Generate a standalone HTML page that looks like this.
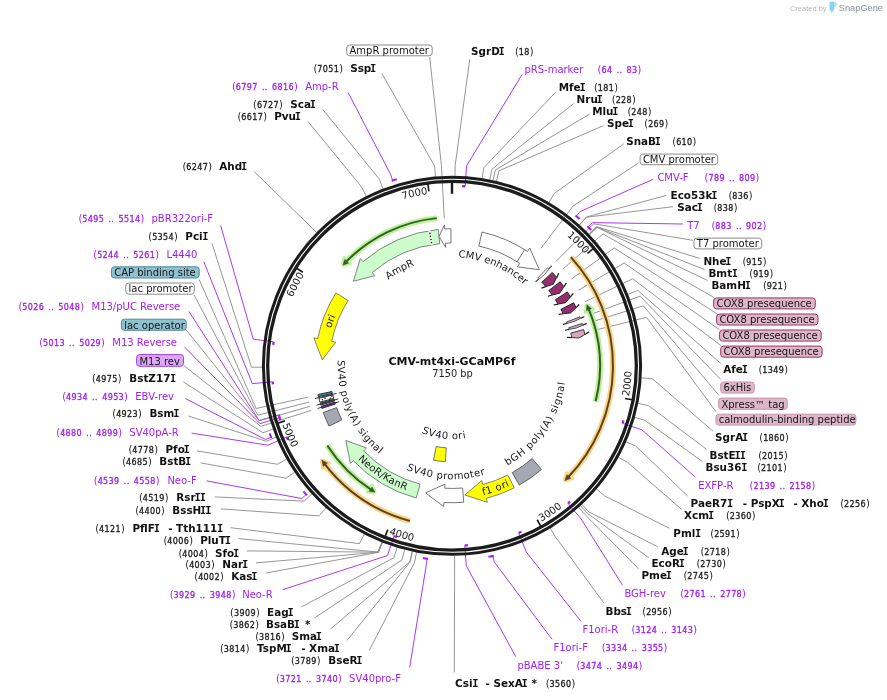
<!DOCTYPE html>
<html><head><meta charset="utf-8"><title>CMV-mt4xi-GCaMP6f</title>
<style>html,body{margin:0;padding:0;background:#fff;width:887px;height:700px;overflow:hidden}svg{display:block;will-change:transform}</style>
</head><body>
<svg width="887" height="700" viewBox="0 0 887 700" font-family="DejaVu Sans, Verdana, sans-serif">
<defs><path id="cp1" d="M522.59,207.37 A173.4,173.4 0 0 1 611.94,298.77"/><path id="cp2" d="M612.46,446.42 A179.6,179.6 0 0 0 625.42,319.06"/><path id="cp3" d="M492.28,540.77 A179.6,179.6 0 0 0 598.61,469.48"/><path id="cp4" d="M342.94,508.45 A179.6,179.6 0 0 0 465.69,544.83"/><path id="cp5" d="M272.54,372.84 A179.6,179.6 0 0 0 322.85,490.56"/><path id="cp6" d="M279.48,348.31 A173.4,173.4 0 0 1 338.29,234.84"/><path id="cp7" d="M355.34,221.79 A173.4,173.4 0 0 1 480.24,194.67"/><path id="cp8" d="M354.31,322.09 A107,107 0 0 1 468.59,260.04"/><path id="cp9" d="M386.85,278.98 A108.5,108.5 0 0 1 559.47,350.86"/><path id="cp10" d="M325.79,374.34 A126.5,126.5 0 0 1 361.19,277.68"/><path id="cp11" d="M323.92,400.45 A132.7,132.7 0 0 0 473.65,496.67"/><path id="cp12" d="M429.6,497.05 A133.2,133.2 0 0 0 552.46,453.22"/><path id="cp13" d="M349.78,415.07 A113.5,113.5 0 0 0 547.93,426.4"/><path id="cp14" d="M381.61,386.91 A73.5,73.5 0 0 0 515.64,402.52"/><path id="cp15" d="M377.72,278.88 A114.3,114.3 0 0 0 466.62,479.11"/><path id="cp16" d="M418.33,474.98 A114.3,114.3 0 0 0 542.31,295.69"/></defs>
<rect width="887" height="700" fill="#ffffff"/>
<g>
<text x="826.6" y="11" font-size="7.5" fill="#b2b6bb" text-anchor="end" font-family="Liberation Sans, sans-serif">Created by</text>
<path d="M829.5,1.7 H834 V9.6 L831.8,13 L829.5,9.6 Z" fill="#8ad2f7"/>
<path d="M834,2.2 H835 Q836.9,2.6 836.8,4.8 Q836.6,7 834,7.4 Z" fill="#a9def9"/>
<text x="838.8" y="11" font-size="9.6" fill="#8a9199" textLength="44.2" lengthAdjust="spacingAndGlyphs" font-family="Liberation Sans, sans-serif">SnapGene</text>
</g>
<g fill="none" stroke-width="0.9"><polyline points="381.8,73.4 434.58,166.01 435.5,176.57" stroke="#8a8a8a"/><polyline points="348.2,92.7 390.8,174.82 392.63,180.53" stroke="#a020f0"/><polyline points="322.7,109.4 379.17,178.94 383.03,188.82" stroke="#8a8a8a"/><polyline points="308,121.5 361.49,186.84 366.27,196.3" stroke="#8a8a8a"/><polyline points="254.3,171.6 309.08,225.13 316.63,232.57" stroke="#8a8a8a"/><polyline points="220.6,225.4 253.27,339.14 273.59,341.86" stroke="#a020f0"/><polyline points="212,243.4 251.51,367.25 262.11,367.17" stroke="#8a8a8a"/><polyline points="203.8,261.7 252.3,383.61 272.72,381.78" stroke="#a020f0"/><polyline points="188.9,311.4 259.11,420.46 278.83,414.87" stroke="#a020f0"/><polyline points="184.6,347.1 260.05,423.67 279.67,417.75" stroke="#a020f0"/><polyline points="183.4,382 263.01,432.71 273,429.17" stroke="#8a8a8a"/><polyline points="185.4,398.6 265.55,439.48 271.13,437.27" stroke="#a020f0"/><polyline points="188.5,416 266.27,441.28 276.09,437.28" stroke="#8a8a8a"/><polyline points="191.5,433.1 267.9,445.18 286.73,437.06" stroke="#a020f0"/><polyline points="196.9,450.9 277.37,464.27 286.6,459.06" stroke="#8a8a8a"/><polyline points="200.6,462.9 286,478.19 294.77,472.25" stroke="#8a8a8a"/><polyline points="206.6,480.9 301.75,498.51 306.24,494.54" stroke="#a020f0"/><polyline points="214.6,496.9 304.1,501.13 311.92,493.97" stroke="#8a8a8a"/><polyline points="220.9,508.9 319.04,515.83 326.07,507.89" stroke="#8a8a8a"/><polyline points="230.6,527.7 359.45,543.61 364.34,534.21" stroke="#8a8a8a"/><polyline points="238.6,538.6 377.86,552.04 381.78,542.19" stroke="#8a8a8a"/><polyline points="246.9,550.9 378.19,552.17 382.09,542.31" stroke="#8a8a8a"/><polyline points="256,562.9 378.35,552.23 382.25,542.38" stroke="#8a8a8a"/><polyline points="265.7,573.1 378.52,552.3 382.4,542.44" stroke="#8a8a8a"/><polyline points="282.6,589.7 387.45,555.58 394.05,536.17" stroke="#a020f0"/><polyline points="301.4,606.9 393.99,557.68 397.06,547.53" stroke="#8a8a8a"/><polyline points="314.6,617.9 401.97,559.91 404.61,549.64" stroke="#8a8a8a"/><polyline points="330.7,628.9 409.85,561.77 412.08,551.41" stroke="#8a8a8a"/><polyline points="347.1,640.3 410.2,561.84 412.41,551.48" stroke="#8a8a8a"/><polyline points="369.3,650.3 414.52,562.72 416.5,552.3" stroke="#8a8a8a"/><polyline points="409.7,667.4 426.35,564.6 427.11,558.65" stroke="#a020f0"/><polyline points="469.8,59.2 455.17,165.28 455,175.87" stroke="#8a8a8a"/><polyline points="522.2,74.3 466.61,165.78 465.12,186.23" stroke="#a020f0"/><polyline points="555.5,92.3 483.76,167.78 482.08,178.25" stroke="#8a8a8a"/><polyline points="573.6,103.6 491.9,169.26 489.79,179.65" stroke="#8a8a8a"/><polyline points="589.8,114 495.35,169.99 493.06,180.34" stroke="#8a8a8a"/><polyline points="603.3,125.7 498.96,170.83 496.47,181.13" stroke="#8a8a8a"/><polyline points="623.7,143.9 554.4,193.37 548.99,202.49" stroke="#8a8a8a"/><polyline points="653.1,179.3 580.14,211.54 576.31,216.16" stroke="#a020f0"/><polyline points="666.4,195.4 586.4,216.97 579.3,224.83" stroke="#8a8a8a"/><polyline points="673.1,206.7 586.66,217.2 579.54,225.06" stroke="#8a8a8a"/><polyline points="682.9,224 592.43,222.64 588.23,226.92" stroke="#a020f0"/><polyline points="699.5,258.3 596.4,226.65 588.76,234" stroke="#8a8a8a"/><polyline points="704.5,269.5 596.89,227.16 589.23,234.48" stroke="#8a8a8a"/><polyline points="707.5,280.5 597.13,227.41 589.46,234.72" stroke="#8a8a8a"/><polyline points="720.9,363.6 637.8,290.39 627.97,294.37" stroke="#8a8a8a"/><polyline points="712.8,431 652.09,378.52 641.51,377.84" stroke="#8a8a8a"/><polyline points="706.4,449.2 648.51,405.57 638.12,403.46" stroke="#8a8a8a"/><polyline points="702.5,461.6 644.94,420.29 634.74,417.41" stroke="#8a8a8a"/><polyline points="695.2,477 641.97,429.88 622.54,423.33" stroke="#a020f0"/><polyline points="687.6,496 635.75,445.98 626.03,441.74" stroke="#8a8a8a"/><polyline points="681.7,509.5 627.66,462.42 618.37,457.31" stroke="#8a8a8a"/><polyline points="669.6,528.4 604.56,495.85 596.5,488.97" stroke="#8a8a8a"/><polyline points="657.8,546.8 589.12,512.03 581.87,504.3" stroke="#8a8a8a"/><polyline points="648.7,557.7 587.57,513.47 580.41,505.66" stroke="#8a8a8a"/><polyline points="638.5,568.7 585.61,515.24 578.55,507.34" stroke="#8a8a8a"/><polyline points="622.5,585.3 581.22,519.05 568.01,503.38" stroke="#a020f0"/><polyline points="604.1,603.4 555.76,537.31 550.28,528.24" stroke="#8a8a8a"/><polyline points="581,621.4 526.3,551.97 518.7,532.93" stroke="#a020f0"/><polyline points="552.1,639.4 494.15,561.77 492.88,555.9" stroke="#a020f0"/><polyline points="515.7,656.6 466.26,565.74 464.8,545.29" stroke="#a020f0"/><polyline points="454.3,672.5 454.64,566.23 454.5,555.63" stroke="#8a8a8a"/><polyline points="429.7,57 441.43,165.53 444.23,218.45" stroke="#8a8a8a"/><polyline points="199.1,279.4 256.11,408.5 307.89,397.2" stroke="#8a8a8a"/><polyline points="194,294.9 257.69,415.19 309.05,402.12" stroke="#8a8a8a"/><polyline points="186,329.7 259.21,420.8 310.17,406.25" stroke="#8a8a8a"/><polyline points="184,365.7 260.88,426.37 311.4,410.34" stroke="#8a8a8a"/><polyline points="638.6,162.9 573.11,205.96 541.09,248.2" stroke="#8a8a8a"/><polyline points="692.9,240.3 593.56,223.76 556.14,261.29" stroke="#8a8a8a"/><polyline points="714,297.5 603.07,233.92 563.13,268.77" stroke="#8a8a8a"/><polyline points="716.6,313.6 614.26,247.97 571.37,279.1" stroke="#8a8a8a"/><polyline points="719.3,329.6 624.15,262.97 578.64,290.14" stroke="#8a8a8a"/><polyline points="721,345.6 632.66,278.79 584.9,301.78" stroke="#8a8a8a"/><polyline points="720.9,379.6 640.03,296.14 590.32,314.54" stroke="#8a8a8a"/><polyline points="718.8,395.2 643.33,305.81 592.75,321.65" stroke="#8a8a8a"/><polyline points="716,411.7 646.57,317.34 595.14,330.14" stroke="#8a8a8a"/></g>
<path d="M570.85,257.15 A161,161 0 0 1 564.86,480.57 " fill="none" stroke="#ffd480" stroke-width="6" stroke-linecap="butt"/><path d="M564.86,480.57 L566.54,472.84 L572.67,478.57 Z" fill="#ffd480" stroke="#ffd480" stroke-width="3.2" stroke-linejoin="round"/><path d="M570.85,257.15 A161,161 0 0 1 567.85,477.55 " fill="none" stroke="#55442a" stroke-width="2"/><path d="M564.86,480.57 L566.94,474.74 L570.72,478.32 Z" fill="#55442a" stroke="#55442a" stroke-width="0.6"/><path d="M409.96,520.96 A160.8,160.8 0 0 1 321.87,460.21 " fill="none" stroke="#ffd480" stroke-width="6" stroke-linecap="butt"/><path d="M321.87,460.21 L329.26,463 L322.68,468.22 Z" fill="#ffd480" stroke="#ffd480" stroke-width="3.2" stroke-linejoin="round"/><path d="M409.96,520.96 A160.8,160.8 0 0 1 324.4,463.61 " fill="none" stroke="#55442a" stroke-width="2"/><path d="M321.87,460.21 L327.32,463.12 L323.22,466.32 Z" fill="#55442a" stroke="#55442a" stroke-width="0.6"/><path d="M595.65,401.36 A148,148 0 0 0 586.89,304.86 " fill="none" stroke="#b6f690" stroke-width="6" stroke-linecap="butt"/><path d="M586.89,304.86 L585.44,312.17 L593.24,309.04 Z" fill="#b6f690" stroke="#b6f690" stroke-width="3.2" stroke-linejoin="round"/><path d="M595.65,401.36 A148,148 0 0 0 588.45,308.44 " fill="none" stroke="#3c5533" stroke-width="2"/><path d="M586.89,304.86 L586.55,310.62 L591.36,308.65 Z" fill="#3c5533" stroke="#3c5533" stroke-width="0.6"/><path d="M327.32,445.49 A148,148 0 0 0 374.96,492.12 " fill="none" stroke="#b6f690" stroke-width="6" stroke-linecap="butt"/><path d="M374.96,492.12 L372.04,485.27 L367.37,492.25 Z" fill="#b6f690" stroke="#b6f690" stroke-width="3.2" stroke-linejoin="round"/><path d="M327.32,445.49 A148,148 0 0 0 371.66,490.04 " fill="none" stroke="#3c5533" stroke-width="2"/><path d="M374.96,492.12 L372,487.16 L369.14,491.5 Z" fill="#3c5533" stroke="#3c5533" stroke-width="0.6"/><path d="M436.77,218.13 A148.4,148.4 0 0 0 342.98,265.07 " fill="none" stroke="#b6f690" stroke-width="6" stroke-linecap="butt"/><path d="M342.98,265.07 L350.28,263.54 L344.36,257.59 Z" fill="#b6f690" stroke="#b6f690" stroke-width="3.2" stroke-linejoin="round"/><path d="M436.77,218.13 A148.4,148.4 0 0 0 345.67,262.23 " fill="none" stroke="#3c5533" stroke-width="2"/><path d="M342.98,265.07 L348.43,263.13 L344.74,259.47 Z" fill="#3c5533" stroke="#3c5533" stroke-width="0.6"/>
<path d="M481.97,232.07 A137,137 0 0 1 527.58,251.48 L529.79,248.15 L539.38,269.7 L517.43,266.83 L519.69,263.41 A122.7,122.7 0 0 0 478.85,246.02 Z" fill="#ffffff" stroke="#555" stroke-width="0.8" stroke-linejoin="miter"/><path d="M517.06,261.72 L524.64,249.6" stroke="#555" stroke-width="0.8"/><path d="M438.3,229.44 A137,137 0 0 0 362.88,261.7 L360.27,258.66 L353.42,281.23 L374.85,275.68 L372.18,272.56 A122.7,122.7 0 0 1 439.73,243.67 Z" fill="#ccfccc" stroke="#666" stroke-width="0.8" stroke-linejoin="miter"/><path d="M431.87,245.02 L429.42,230.32" stroke="#fff" stroke-width="2.0"/><path d="M431.57,243.24 L429.57,231.21" stroke="#111" stroke-width="1.4" stroke-dasharray="1.4,1.7"/><path d="M450.92,228.75 A137,137 0 0 0 444.6,228.95 L444.38,224.96 L439.01,236.55 L445.59,247.32 L445.37,243.23 A122.7,122.7 0 0 1 451.03,243.05 Z" fill="#ffffff" stroke="#555" stroke-width="0.8" stroke-linejoin="miter"/><path d="M335.94,292.95 A137,137 0 0 0 317.73,338.54 L313.81,337.75 L322.29,359.76 L335.76,342.2 L331.74,341.38 A122.7,122.7 0 0 1 348.06,300.55 Z" fill="#ffff00" stroke="#666" stroke-width="0.8" stroke-linejoin="miter"/><path d="M416.3,498.02 A137,137 0 0 1 353.33,460.8 L350.45,463.57 L345.79,440.45 L366.59,448.03 L363.63,450.88 A122.7,122.7 0 0 0 420.03,484.21 Z" fill="#ccfccc" stroke="#666" stroke-width="0.8" stroke-linejoin="miter"/><path d="M463.78,502.24 A137,137 0 0 1 443.88,502.51 L443.64,506.5 L425.6,492.89 L444.97,484.14 L444.73,488.23 A122.7,122.7 0 0 0 462.55,488 Z" fill="#ffffff" stroke="#555" stroke-width="0.8" stroke-linejoin="miter"/><path d="M514.28,487.78 A137,137 0 0 1 486.3,498.39 L487.31,502.26 L464.87,494.96 L481.7,480.57 L482.72,484.54 A122.7,122.7 0 0 0 507.78,475.04 Z" fill="#ffff00" stroke="#666" stroke-width="0.8" stroke-linejoin="miter"/><path d="M541.58,469.41 A137,137 0 0 1 519.26,485.1 L512.24,472.64 A122.7,122.7 0 0 0 532.23,458.59 Z" fill="#a3a8b1" stroke="#444" stroke-width="0.8" stroke-linejoin="miter"/><path d="M329.03,426.14 A137,137 0 0 1 323.23,412.53 L336.67,407.64 A122.7,122.7 0 0 0 341.87,419.84 Z" fill="#a3a8b1" stroke="#444" stroke-width="0.8" stroke-linejoin="miter"/><path d="M445.33,461.72 A96.2,96.2 0 0 1 433.52,460.16 L436.19,446.52 A82.3,82.3 0 0 0 446.29,447.85 Z" fill="#ffff00" stroke="#555" stroke-width="0.8" stroke-linejoin="miter"/><path d="M552.32,272.45 A137,137 0 0 1 556.72,277.41 L553.13,284.31 L545.79,286.64 A122.7,122.7 0 0 0 541.85,282.19 Z" fill="#952f6b" stroke="#1a1a1a" stroke-width="0.9" stroke-linejoin="miter"/><path d="M556.72,277.41 L558.72,273.22 M545.79,286.64 L541.5,288.16" stroke="#1a1a1a" stroke-width="1.2" fill="none"/><path d="M560.2,281.71 A137,137 0 0 1 563.95,286.78 L559.7,293.21 L552.26,295.02 A122.7,122.7 0 0 0 548.9,290.48 Z" fill="#952f6b" stroke="#1a1a1a" stroke-width="0.9" stroke-linejoin="miter"/><path d="M563.95,286.78 L566.36,282.85 M552.26,295.02 L547.9,296.23" stroke="#1a1a1a" stroke-width="1.2" fill="none"/><path d="M567.41,291.94 A137,137 0 0 1 570.44,296.9 L565.54,302.74 L558.08,304.08 A122.7,122.7 0 0 0 555.37,299.64 Z" fill="#952f6b" stroke="#1a1a1a" stroke-width="0.9" stroke-linejoin="miter"/><path d="M570.44,296.9 L573.27,293.32 M558.08,304.08 L553.69,305.01" stroke="#1a1a1a" stroke-width="1.2" fill="none"/><path d="M573.67,302.78 A137,137 0 0 1 576.09,307.7 L570.63,312.95 L563.14,313.76 A122.7,122.7 0 0 0 560.97,309.35 Z" fill="#952f6b" stroke="#1a1a1a" stroke-width="0.9" stroke-linejoin="miter"/><path d="M576.09,307.7 L579.26,304.47 M563.14,313.76 L558.72,314.36" stroke="#1a1a1a" stroke-width="1.2" fill="none"/><path d="M547.7,267.71 A137,137 0 0 1 548.98,268.98 L544.48,274.6 L538.85,279.08 A122.7,122.7 0 0 0 537.71,277.95 Z" fill="#ffffff" stroke="#444" stroke-width="0.8" stroke-linejoin="miter"/><path d="M548.98,268.98 L551.62,265.61 M538.85,279.08 L535.54,281.77" stroke="#444" stroke-width="1.2" fill="none"/><path d="M579.97,316.83 A137,137 0 0 1 580.54,318.36 L574.09,321.52 L567.13,323.31 A122.7,122.7 0 0 0 566.61,321.94 Z" fill="#dba9c4" stroke="#2a2a2a" stroke-width="0.8" stroke-linejoin="miter"/><path d="M580.54,318.36 L584.37,316.45 M567.13,323.31 L563,324.41" stroke="#2a2a2a" stroke-width="1.2" fill="none"/><path d="M582.29,323.41 A137,137 0 0 1 582.84,325.13 L576.25,328.02 L569.18,329.37 A122.7,122.7 0 0 0 568.69,327.83 Z" fill="#dba9c4" stroke="#2a2a2a" stroke-width="0.8" stroke-linejoin="miter"/><path d="M582.84,325.13 L586.74,323.38 M569.18,329.37 L564.99,330.22" stroke="#2a2a2a" stroke-width="1.2" fill="none"/><path d="M583.61,329.54 A136.5,136.5 0 0 1 584.88,334.52 L578.86,338.06 L571.93,337.57 A123.2,123.2 0 0 0 570.79,333.07 Z" fill="#d9a5c0" stroke="#2a2a2a" stroke-width="0.9" stroke-linejoin="miter"/><path d="M584.88,334.52 L589.13,331.87 M571.93,337.57 L566.99,337.34" stroke="#2a2a2a" stroke-width="1.2" fill="none"/><path d="M321.82,408.43 A137,137 0 0 1 321.16,406.36 L334.82,402.12 A122.7,122.7 0 0 0 335.41,403.97 Z" fill="#a020f0" stroke="#3a1a4a" stroke-width="0.9"/><path d="M320.77,405.1 A137,137 0 0 1 320.2,403.13 L333.96,399.23 A122.7,122.7 0 0 0 334.47,400.99 Z" fill="#3796ac" stroke="#1a1a1a" stroke-width="0.9"/><path d="M319.94,402.21 A137,137 0 0 1 318.91,398.24 L332.8,394.85 A122.7,122.7 0 0 0 333.72,398.4 Z" fill="#ffffff" stroke="#1a1a1a" stroke-width="0.9"/><circle cx="330.25" cy="398.21" r="0.8" fill="#111"/><circle cx="325.07" cy="398.16" r="0.8" fill="#111"/><circle cx="322.4" cy="399.82" r="0.8" fill="#111"/><circle cx="331.75" cy="396.01" r="0.8" fill="#111"/><path d="M318.52,396.6 A137,137 0 0 1 318.05,394.49 L332.03,391.49 A122.7,122.7 0 0 0 332.45,393.38 Z" fill="#3796ac" stroke="#1a1a1a" stroke-width="0.9"/><path d="M338.98,401.7 L317.64,408.5" stroke="#333" stroke-width="1"/><path d="M338.13,398.91 L316.62,405.18" stroke="#333" stroke-width="1"/><path d="M336.66,393.37 L314.88,398.59" stroke="#333" stroke-width="1"/>
<circle cx="452" cy="365.75" r="188.6" fill="none" stroke="#1c1c1c" stroke-width="3.0"/><circle cx="452" cy="365.75" r="184.35" fill="none" stroke="#1c1c1c" stroke-width="3.3"/>
<line x1="587.51" y1="253.44" x2="593.29" y2="248.66" stroke="#1a1a1a" stroke-width="1.6"/><line x1="624.94" y1="398.43" x2="632.31" y2="399.82" stroke="#1a1a1a" stroke-width="1.6"/><line x1="537.19" y1="519.76" x2="540.83" y2="526.32" stroke="#1a1a1a" stroke-width="1.6"/><line x1="387.79" y1="529.62" x2="385.05" y2="536.6" stroke="#1a1a1a" stroke-width="1.6"/><line x1="284.85" y1="420.87" x2="277.73" y2="423.22" stroke="#1a1a1a" stroke-width="1.6"/><line x1="302.9" y1="272.23" x2="296.55" y2="268.24" stroke="#1a1a1a" stroke-width="1.6"/><line x1="428.87" y1="191.28" x2="427.88" y2="183.84" stroke="#1a1a1a" stroke-width="1.6"/><line x1="452" y1="193.75" x2="452" y2="182.25" stroke="#1a1a1a" stroke-width="2.4"/>
<path d="M392.63,180.53 A194.5,194.5 0 0 1 395.73,179.57 " fill="none" stroke="#a020f0" stroke-width="2.0" stroke-linecap="square"/><path d="M462.12,186.03 A180,180 0 0 1 465.12,186.23 " fill="none" stroke="#a020f0" stroke-width="2.3"/><path d="M576.31,216.16 A194.5,194.5 0 0 1 578.92,218.37 " fill="none" stroke="#a020f0" stroke-width="2.0" stroke-linecap="square"/><path d="M588.23,226.92 A194.5,194.5 0 0 1 590.53,229.22 " fill="none" stroke="#a020f0" stroke-width="2.0" stroke-linecap="square"/><path d="M623.48,420.47 A180,180 0 0 1 622.54,423.33 " fill="none" stroke="#a020f0" stroke-width="2.3"/><path d="M570.05,501.63 A180,180 0 0 1 568.01,503.38 " fill="none" stroke="#a020f0" stroke-width="2.3"/><path d="M521.49,531.8 A180,180 0 0 1 518.7,532.93 " fill="none" stroke="#a020f0" stroke-width="2.3"/><path d="M492.88,555.9 A194.5,194.5 0 0 1 489.37,556.63 " fill="none" stroke="#a020f0" stroke-width="2.0" stroke-linecap="square"/><path d="M467.96,545.04 A180,180 0 0 1 464.8,545.29 " fill="none" stroke="#a020f0" stroke-width="2.3"/><path d="M427.11,558.65 A194.5,194.5 0 0 1 423.9,558.21 " fill="none" stroke="#a020f0" stroke-width="2.0" stroke-linecap="square"/><path d="M396.9,537.11 A180,180 0 0 1 394.05,536.17 " fill="none" stroke="#a020f0" stroke-width="2.3"/><path d="M306.24,494.54 A194.5,194.5 0 0 1 304.11,492.08 " fill="none" stroke="#a020f0" stroke-width="2.0" stroke-linecap="square"/><path d="M287.94,439.8 A180,180 0 0 1 286.73,437.06 " fill="none" stroke="#a020f0" stroke-width="2.3"/><path d="M271.13,437.27 A194.5,194.5 0 0 1 269.96,434.24 " fill="none" stroke="#a020f0" stroke-width="2.0" stroke-linecap="square"/><path d="M280.42,420.17 A180,180 0 0 1 279.67,417.75 " fill="none" stroke="#a020f0" stroke-width="2.3"/><path d="M279.81,418.2 A180,180 0 0 1 278.83,414.87 " fill="none" stroke="#a020f0" stroke-width="2.3"/><path d="M272.98,384.46 A180,180 0 0 1 272.72,381.78 " fill="none" stroke="#a020f0" stroke-width="2.3"/><path d="M273.22,344.84 A180,180 0 0 1 273.59,341.86 " fill="none" stroke="#a020f0" stroke-width="2.3"/>
<text font-size="10" fill="#1a1a1a"><textPath href="#cp1" startOffset="50%" text-anchor="middle">1000</textPath></text><text font-size="10" fill="#1a1a1a"><textPath href="#cp2" startOffset="50%" text-anchor="middle">2000</textPath></text><text font-size="10" fill="#1a1a1a"><textPath href="#cp3" startOffset="50%" text-anchor="middle">3000</textPath></text><text font-size="10" fill="#1a1a1a"><textPath href="#cp4" startOffset="50%" text-anchor="middle">4000</textPath></text><text font-size="10" fill="#1a1a1a"><textPath href="#cp5" startOffset="50%" text-anchor="middle">5000</textPath></text><text font-size="10" fill="#1a1a1a"><textPath href="#cp6" startOffset="50%" text-anchor="middle">6000</textPath></text><text font-size="10" fill="#1a1a1a"><textPath href="#cp7" startOffset="50%" text-anchor="middle">7000</textPath></text><text font-size="10" fill="#1a1a1a"><textPath href="#cp8" startOffset="50%" text-anchor="middle">AmpR</textPath></text><text font-size="10" fill="#1a1a1a"><textPath href="#cp9" startOffset="50%" text-anchor="middle">CMV enhancer</textPath></text><text font-size="10" fill="#1a1a1a"><textPath href="#cp10" startOffset="50%" text-anchor="middle">ori</textPath></text><text font-size="10" fill="#1a1a1a" letter-spacing="0.21"><textPath href="#cp11" startOffset="50%" text-anchor="middle">NeoR/KanR</textPath></text><text font-size="10" fill="#1a1a1a" letter-spacing="0.42"><textPath href="#cp12" startOffset="50%" text-anchor="middle">f1 ori</textPath></text><text font-size="10" fill="#1a1a1a" letter-spacing="0.44"><textPath href="#cp13" startOffset="50%" text-anchor="middle">SV40 promoter</textPath></text><text font-size="10" fill="#1a1a1a" letter-spacing="0.48"><textPath href="#cp14" startOffset="50%" text-anchor="middle">SV40 ori</textPath></text><text font-size="10" fill="#1a1a1a" letter-spacing="0.49"><textPath href="#cp15" startOffset="50%" text-anchor="middle">SV40 poly(A) signal</textPath></text><text font-size="10" fill="#1a1a1a" letter-spacing="0.66"><textPath href="#cp16" startOffset="50%" text-anchor="middle">bGH poly(A) signal</textPath></text>
<text x="313.4" y="72" font-size="9.8" fill="#222">(<tspan font-size="8" letter-spacing="0.4" word-spacing="1.2" stroke="#222" stroke-width="0.3">7051</tspan>)</text><text x="350.2" y="72" font-size="10.4" font-weight="bold" fill="#111">Ssp<tspan font-family="DejaVu Sans Mono" dx="-1.2">I</tspan></text><text x="232" y="89.7" font-size="9.8" fill="#a020f0">(<tspan font-size="8" letter-spacing="0.4" word-spacing="1.2" stroke="#a020f0" stroke-width="0.3">6797 .. 6816</tspan>)</text><text x="305.2" y="89.7" font-size="10" fill="#a020f0">Amp-R</text><text x="253.1" y="107.8" font-size="9.8" fill="#222">(<tspan font-size="8" letter-spacing="0.4" word-spacing="1.2" stroke="#222" stroke-width="0.3">6727</tspan>)</text><text x="290.3" y="107.8" font-size="10.4" font-weight="bold" fill="#111">Sca<tspan font-family="DejaVu Sans Mono" dx="-1.2">I</tspan></text><text x="237.5" y="119.7" font-size="9.8" fill="#222">(<tspan font-size="8" letter-spacing="0.4" word-spacing="1.2" stroke="#222" stroke-width="0.3">6617</tspan>)</text><text x="274.2" y="119.7" font-size="10.4" font-weight="bold" fill="#111">Pvu<tspan font-family="DejaVu Sans Mono" dx="-1.2">I</tspan></text><text x="182.4" y="169.6" font-size="9.8" fill="#222">(<tspan font-size="8" letter-spacing="0.4" word-spacing="1.2" stroke="#222" stroke-width="0.3">6247</tspan>)</text><text x="219.3" y="169.6" font-size="10.4" font-weight="bold" fill="#111">Ahd<tspan font-family="DejaVu Sans Mono" dx="-1.2">I</tspan></text><text x="78.5" y="221.9" font-size="9.8" fill="#a020f0">(<tspan font-size="8" letter-spacing="0.4" word-spacing="1.2" stroke="#a020f0" stroke-width="0.3">5495 .. 5514</tspan>)</text><text x="151.5" y="221.9" font-size="10" fill="#a020f0">pBR322ori-F</text><text x="148.3" y="240" font-size="9.8" fill="#222">(<tspan font-size="8" letter-spacing="0.4" word-spacing="1.2" stroke="#222" stroke-width="0.3">5354</tspan>)</text><text x="185.3" y="240" font-size="10.4" font-weight="bold" fill="#111">Pci<tspan font-family="DejaVu Sans Mono" dx="-0.3">I</tspan></text><text x="93.3" y="258.2" font-size="9.8" fill="#a020f0">(<tspan font-size="8" letter-spacing="0.4" word-spacing="1.2" stroke="#a020f0" stroke-width="0.3">5244 .. 5261</tspan>)</text><text x="166.4" y="258.2" font-size="10" fill="#a020f0">L4440</text><text x="18.4" y="310.4" font-size="9.8" fill="#a020f0">(<tspan font-size="8" letter-spacing="0.4" word-spacing="1.2" stroke="#a020f0" stroke-width="0.3">5026 .. 5048</tspan>)</text><text x="91.5" y="310.4" font-size="10" fill="#a020f0">M13/pUC Reverse</text><text x="39.2" y="345.8" font-size="9.8" fill="#a020f0">(<tspan font-size="8" letter-spacing="0.4" word-spacing="1.2" stroke="#a020f0" stroke-width="0.3">5013 .. 5029</tspan>)</text><text x="112.3" y="345.8" font-size="10" fill="#a020f0">M13 Reverse</text><text x="92" y="381.5" font-size="9.8" fill="#222">(<tspan font-size="8" letter-spacing="0.4" word-spacing="1.2" stroke="#222" stroke-width="0.3">4975</tspan>)</text><text x="129.3" y="381.5" font-size="10.4" font-weight="bold" fill="#111">BstZ17<tspan font-family="DejaVu Sans Mono" dx="-0.3">I</tspan></text><text x="62.2" y="399.5" font-size="9.8" fill="#a020f0">(<tspan font-size="8" letter-spacing="0.4" word-spacing="1.2" stroke="#a020f0" stroke-width="0.3">4934 .. 4953</tspan>)</text><text x="135.3" y="399.5" font-size="10" fill="#a020f0">EBV-rev</text><text x="112.3" y="417.4" font-size="9.8" fill="#222">(<tspan font-size="8" letter-spacing="0.4" word-spacing="1.2" stroke="#222" stroke-width="0.3">4923</tspan>)</text><text x="149.4" y="417.4" font-size="10.4" font-weight="bold" fill="#111">Bsm<tspan font-family="DejaVu Sans Mono" dx="-1.2">I</tspan></text><text x="56.3" y="435.5" font-size="9.8" fill="#a020f0">(<tspan font-size="8" letter-spacing="0.4" word-spacing="1.2" stroke="#a020f0" stroke-width="0.3">4880 .. 4899</tspan>)</text><text x="129.3" y="435.5" font-size="10" fill="#a020f0">SV40pA-R</text><text x="128.5" y="453.4" font-size="9.8" fill="#222">(<tspan font-size="8" letter-spacing="0.4" word-spacing="1.2" stroke="#222" stroke-width="0.3">4778</tspan>)</text><text x="165.5" y="453.4" font-size="10.4" font-weight="bold" fill="#111">Pfo<tspan font-family="DejaVu Sans Mono" dx="-1.2">I</tspan></text><text x="122.2" y="465.4" font-size="9.8" fill="#222">(<tspan font-size="8" letter-spacing="0.4" word-spacing="1.2" stroke="#222" stroke-width="0.3">4685</tspan>)</text><text x="159.3" y="465.4" font-size="10.4" font-weight="bold" fill="#111">BstB<tspan font-family="DejaVu Sans Mono" dx="-1.2">I</tspan></text><text x="93.8" y="484.4" font-size="9.8" fill="#a020f0">(<tspan font-size="8" letter-spacing="0.4" word-spacing="1.2" stroke="#a020f0" stroke-width="0.3">4539 .. 4558</tspan>)</text><text x="167.4" y="484.4" font-size="10" fill="#a020f0">Neo-F</text><text x="139" y="501.4" font-size="9.8" fill="#222">(<tspan font-size="8" letter-spacing="0.4" word-spacing="1.2" stroke="#222" stroke-width="0.3">4519</tspan>)</text><text x="176.3" y="501.4" font-size="10.4" font-weight="bold" fill="#111">Rsr<tspan font-family="DejaVu Sans Mono" dx="-1.2">I</tspan><tspan font-family="DejaVu Sans Mono" dx="-1.0">I</tspan></text><text x="135.2" y="513.8" font-size="9.8" fill="#222">(<tspan font-size="8" letter-spacing="0.4" word-spacing="1.2" stroke="#222" stroke-width="0.3">4400</tspan>)</text><text x="172.3" y="513.8" font-size="10.4" font-weight="bold" fill="#111">BssH<tspan font-family="DejaVu Sans Mono" dx="-1.2">I</tspan><tspan font-family="DejaVu Sans Mono" dx="-1.0">I</tspan></text><text x="95.2" y="532.3" font-size="9.8" fill="#222">(<tspan font-size="8" letter-spacing="0.4" word-spacing="1.2" stroke="#222" stroke-width="0.3">4121</tspan>)</text><text x="132.5" y="532.3" font-size="10.4" font-weight="bold" fill="#111">PflF<tspan font-family="DejaVu Sans Mono" dx="-1.2">I</tspan></text><text x="168.2" y="532.3" font-size="10.4" font-weight="bold" fill="#111">- Tth111<tspan font-family="DejaVu Sans Mono" dx="-0.3">I</tspan></text><text x="163.4" y="544.4" font-size="9.8" fill="#222">(<tspan font-size="8" letter-spacing="0.4" word-spacing="1.2" stroke="#222" stroke-width="0.3">4006</tspan>)</text><text x="200.2" y="544.4" font-size="10.4" font-weight="bold" fill="#111">PluT<tspan font-family="DejaVu Sans Mono" dx="-1.2">I</tspan></text><text x="178.5" y="556.6" font-size="9.8" fill="#222">(<tspan font-size="8" letter-spacing="0.4" word-spacing="1.2" stroke="#222" stroke-width="0.3">4004</tspan>)</text><text x="215" y="556.6" font-size="10.4" font-weight="bold" fill="#111">Sfo<tspan font-family="DejaVu Sans Mono" dx="-1.2">I</tspan></text><text x="185.3" y="568.2" font-size="9.8" fill="#222">(<tspan font-size="8" letter-spacing="0.4" word-spacing="1.2" stroke="#222" stroke-width="0.3">4003</tspan>)</text><text x="222.3" y="568.2" font-size="10.4" font-weight="bold" fill="#111">Nar<tspan font-family="DejaVu Sans Mono" dx="-1.2">I</tspan></text><text x="194.3" y="580.2" font-size="9.8" fill="#222">(<tspan font-size="8" letter-spacing="0.4" word-spacing="1.2" stroke="#222" stroke-width="0.3">4002</tspan>)</text><text x="231.3" y="580.2" font-size="10.4" font-weight="bold" fill="#111">Kas<tspan font-family="DejaVu Sans Mono" dx="-1.2">I</tspan></text><text x="169.76" y="598.4" font-size="9.8" fill="#a020f0">(<tspan font-size="8" letter-spacing="0.4" word-spacing="1.2" stroke="#a020f0" stroke-width="0.3">3929 .. 3948</tspan>)</text><text x="242.2" y="598.4" font-size="10" fill="#a020f0">Neo-R</text><text x="230.1" y="616" font-size="9.8" fill="#222">(<tspan font-size="8" letter-spacing="0.4" word-spacing="1.2" stroke="#222" stroke-width="0.3">3909</tspan>)</text><text x="267.1" y="616" font-size="10.4" font-weight="bold" fill="#111">Eag<tspan font-family="DejaVu Sans Mono" dx="-1.2">I</tspan></text><text x="229.5" y="628.2" font-size="9.8" fill="#222">(<tspan font-size="8" letter-spacing="0.4" word-spacing="1.2" stroke="#222" stroke-width="0.3">3862</tspan>)</text><text x="266" y="628.2" font-size="10.4" font-weight="bold" fill="#111">BsaB<tspan font-family="DejaVu Sans Mono" dx="-1.2">I</tspan></text><text x="305" y="628.2" font-size="10.4" font-weight="bold" fill="#111">*</text><text x="255.2" y="640.1" font-size="9.8" fill="#222">(<tspan font-size="8" letter-spacing="0.4" word-spacing="1.2" stroke="#222" stroke-width="0.3">3816</tspan>)</text><text x="291.7" y="640.1" font-size="10.4" font-weight="bold" fill="#111">Sma<tspan font-family="DejaVu Sans Mono" dx="-1.2">I</tspan></text><text x="220" y="652" font-size="9.8" fill="#222">(<tspan font-size="8" letter-spacing="0.4" word-spacing="1.2" stroke="#222" stroke-width="0.3">3814</tspan>)</text><text x="257.1" y="652" font-size="10.4" font-weight="bold" fill="#111">TspM<tspan font-family="DejaVu Sans Mono" dx="-1.2">I</tspan></text><text x="301.2" y="652" font-size="10.4" font-weight="bold" fill="#111">- Xma<tspan font-family="DejaVu Sans Mono" dx="-1.2">I</tspan></text><text x="290.9" y="664.1" font-size="9.8" fill="#222">(<tspan font-size="8" letter-spacing="0.4" word-spacing="1.2" stroke="#222" stroke-width="0.3">3789</tspan>)</text><text x="328.3" y="664.1" font-size="10.4" font-weight="bold" fill="#111">BseR<tspan font-family="DejaVu Sans Mono" dx="-1.2">I</tspan></text><text x="276" y="682.3" font-size="9.8" fill="#a020f0">(<tspan font-size="8" letter-spacing="0.4" word-spacing="1.2" stroke="#a020f0" stroke-width="0.3">3721 .. 3740</tspan>)</text><text x="349.1" y="682.3" font-size="10" fill="#a020f0">SV40pro-F</text><text x="471.1" y="54.9" font-size="10.4" font-weight="bold" fill="#111">SgrD<tspan font-family="DejaVu Sans Mono" dx="-1.2">I</tspan></text><text x="515" y="54.9" font-size="9.8" fill="#222">(<tspan font-size="8" letter-spacing="0.4" word-spacing="1.2" stroke="#222" stroke-width="0.3">18</tspan>)</text><text x="524.4" y="72.7" font-size="10" fill="#a020f0">pRS-marker</text><text x="597.6" y="72.7" font-size="9.8" fill="#a020f0">(<tspan font-size="8" letter-spacing="0.4" word-spacing="1.2" stroke="#a020f0" stroke-width="0.3">64 .. 83</tspan>)</text><text x="558.7" y="90.8" font-size="10.4" font-weight="bold" fill="#111">Mfe<tspan font-family="DejaVu Sans Mono" dx="-1.2">I</tspan></text><text x="593.9" y="90.8" font-size="9.8" fill="#222">(<tspan font-size="8" letter-spacing="0.4" word-spacing="1.2" stroke="#222" stroke-width="0.3">181</tspan>)</text><text x="576.6" y="102.7" font-size="10.4" font-weight="bold" fill="#111">Nru<tspan font-family="DejaVu Sans Mono" dx="-1.2">I</tspan></text><text x="611.8" y="102.7" font-size="9.8" fill="#222">(<tspan font-size="8" letter-spacing="0.4" word-spacing="1.2" stroke="#222" stroke-width="0.3">228</tspan>)</text><text x="592.2" y="114.9" font-size="10.4" font-weight="bold" fill="#111">Mlu<tspan font-family="DejaVu Sans Mono" dx="-1.2">I</tspan></text><text x="627.4" y="114.9" font-size="9.8" fill="#222">(<tspan font-size="8" letter-spacing="0.4" word-spacing="1.2" stroke="#222" stroke-width="0.3">248</tspan>)</text><text x="607.1" y="126.8" font-size="10.4" font-weight="bold" fill="#111">Spe<tspan font-family="DejaVu Sans Mono" dx="-1.2">I</tspan></text><text x="644.3" y="126.8" font-size="9.8" fill="#222">(<tspan font-size="8" letter-spacing="0.4" word-spacing="1.2" stroke="#222" stroke-width="0.3">269</tspan>)</text><text x="626.2" y="144.8" font-size="10.4" font-weight="bold" fill="#111">SnaB<tspan font-family="DejaVu Sans Mono" dx="-1.2">I</tspan></text><text x="672.3" y="144.8" font-size="9.8" fill="#222">(<tspan font-size="8" letter-spacing="0.4" word-spacing="1.2" stroke="#222" stroke-width="0.3">610</tspan>)</text><text x="657.4" y="180.9" font-size="10" fill="#a020f0">CMV-F</text><text x="704.6" y="180.9" font-size="9.8" fill="#a020f0">(<tspan font-size="8" letter-spacing="0.4" word-spacing="1.2" stroke="#a020f0" stroke-width="0.3">789 .. 809</tspan>)</text><text x="670.6" y="198.7" font-size="10.4" font-weight="bold" fill="#111">Eco53k<tspan font-family="DejaVu Sans Mono" dx="-1.2">I</tspan></text><text x="728.4" y="198.7" font-size="9.8" fill="#222">(<tspan font-size="8" letter-spacing="0.4" word-spacing="1.2" stroke="#222" stroke-width="0.3">836</tspan>)</text><text x="677.3" y="210.6" font-size="10.4" font-weight="bold" fill="#111">Sac<tspan font-family="DejaVu Sans Mono" dx="-1.2">I</tspan></text><text x="713.5" y="210.6" font-size="9.8" fill="#222">(<tspan font-size="8" letter-spacing="0.4" word-spacing="1.2" stroke="#222" stroke-width="0.3">838</tspan>)</text><text x="687.2" y="228.8" font-size="10" fill="#a020f0">T7</text><text x="711.5" y="228.8" font-size="9.8" fill="#a020f0">(<tspan font-size="8" letter-spacing="0.4" word-spacing="1.2" stroke="#a020f0" stroke-width="0.3">883 .. 902</tspan>)</text><text x="703.4" y="264.7" font-size="10.4" font-weight="bold" fill="#111">Nhe<tspan font-family="DejaVu Sans Mono" dx="-1.2">I</tspan></text><text x="742.4" y="264.7" font-size="9.8" fill="#222">(<tspan font-size="8" letter-spacing="0.4" word-spacing="1.2" stroke="#222" stroke-width="0.3">915</tspan>)</text><text x="708.4" y="276.6" font-size="10.4" font-weight="bold" fill="#111">Bmt<tspan font-family="DejaVu Sans Mono" dx="-0.3">I</tspan></text><text x="749.3" y="276.6" font-size="9.8" fill="#222">(<tspan font-size="8" letter-spacing="0.4" word-spacing="1.2" stroke="#222" stroke-width="0.3">919</tspan>)</text><text x="711.4" y="288.6" font-size="10.4" font-weight="bold" fill="#111">BamH<tspan font-family="DejaVu Sans Mono" dx="-1.2">I</tspan></text><text x="763" y="288.6" font-size="9.8" fill="#222">(<tspan font-size="8" letter-spacing="0.4" word-spacing="1.2" stroke="#222" stroke-width="0.3">921</tspan>)</text><text x="723.3" y="372.8" font-size="10.4" font-weight="bold" fill="#111">Afe<tspan font-family="DejaVu Sans Mono" dx="-1.2">I</tspan></text><text x="758.5" y="372.8" font-size="9.8" fill="#222">(<tspan font-size="8" letter-spacing="0.4" word-spacing="1.2" stroke="#222" stroke-width="0.3">1349</tspan>)</text><text x="715.1" y="441.1" font-size="10.4" font-weight="bold" fill="#111">SgrA<tspan font-family="DejaVu Sans Mono" dx="-1.2">I</tspan></text><text x="759.3" y="441.1" font-size="9.8" fill="#222">(<tspan font-size="8" letter-spacing="0.4" word-spacing="1.2" stroke="#222" stroke-width="0.3">1860</tspan>)</text><text x="709.5" y="459" font-size="10.4" font-weight="bold" fill="#111">BstE<tspan font-family="DejaVu Sans Mono" dx="-1.2">I</tspan><tspan font-family="DejaVu Sans Mono" dx="-1.0">I</tspan></text><text x="758.2" y="459" font-size="9.8" fill="#222">(<tspan font-size="8" letter-spacing="0.4" word-spacing="1.2" stroke="#222" stroke-width="0.3">2015</tspan>)</text><text x="705.5" y="471.1" font-size="10.4" font-weight="bold" fill="#111">Bsu36<tspan font-family="DejaVu Sans Mono" dx="-0.3">I</tspan></text><text x="757.2" y="471.1" font-size="9.8" fill="#222">(<tspan font-size="8" letter-spacing="0.4" word-spacing="1.2" stroke="#222" stroke-width="0.3">2101</tspan>)</text><text x="698.2" y="488.7" font-size="10" fill="#a020f0">EXFP-R</text><text x="749.6" y="488.7" font-size="9.8" fill="#a020f0">(<tspan font-size="8" letter-spacing="0.4" word-spacing="1.2" stroke="#a020f0" stroke-width="0.3">2139 .. 2158</tspan>)</text><text x="690.6" y="506.8" font-size="10.4" font-weight="bold" fill="#111">PaeR7<tspan font-family="DejaVu Sans Mono" dx="-0.3">I</tspan></text><text x="742.8" y="506.8" font-size="10.4" font-weight="bold" fill="#111">- PspX<tspan font-family="DejaVu Sans Mono" dx="-1.2">I</tspan></text><text x="793.4" y="506.8" font-size="10.4" font-weight="bold" fill="#111">- Xho<tspan font-family="DejaVu Sans Mono" dx="-1.2">I</tspan></text><text x="840.2" y="506.8" font-size="9.8" fill="#222">(<tspan font-size="8" letter-spacing="0.4" word-spacing="1.2" stroke="#222" stroke-width="0.3">2256</tspan>)</text><text x="684.1" y="518.5" font-size="10.4" font-weight="bold" fill="#111">Xcm<tspan font-family="DejaVu Sans Mono" dx="-1.2">I</tspan></text><text x="726" y="518.5" font-size="9.8" fill="#222">(<tspan font-size="8" letter-spacing="0.4" word-spacing="1.2" stroke="#222" stroke-width="0.3">2360</tspan>)</text><text x="673.3" y="536.6" font-size="10.4" font-weight="bold" fill="#111">Pml<tspan font-family="DejaVu Sans Mono" dx="-0.3">I</tspan></text><text x="710.3" y="536.6" font-size="9.8" fill="#222">(<tspan font-size="8" letter-spacing="0.4" word-spacing="1.2" stroke="#222" stroke-width="0.3">2591</tspan>)</text><text x="661.2" y="554.7" font-size="10.4" font-weight="bold" fill="#111">Age<tspan font-family="DejaVu Sans Mono" dx="-1.2">I</tspan></text><text x="700.4" y="554.7" font-size="9.8" fill="#222">(<tspan font-size="8" letter-spacing="0.4" word-spacing="1.2" stroke="#222" stroke-width="0.3">2718</tspan>)</text><text x="651.5" y="567" font-size="10.4" font-weight="bold" fill="#111">EcoR<tspan font-family="DejaVu Sans Mono" dx="-1.2">I</tspan></text><text x="696.4" y="567" font-size="9.8" fill="#222">(<tspan font-size="8" letter-spacing="0.4" word-spacing="1.2" stroke="#222" stroke-width="0.3">2730</tspan>)</text><text x="641.5" y="578.7" font-size="10.4" font-weight="bold" fill="#111">Pme<tspan font-family="DejaVu Sans Mono" dx="-1.2">I</tspan></text><text x="683.4" y="578.7" font-size="9.8" fill="#222">(<tspan font-size="8" letter-spacing="0.4" word-spacing="1.2" stroke="#222" stroke-width="0.3">2745</tspan>)</text><text x="624.4" y="596.8" font-size="10" fill="#a020f0">BGH-rev</text><text x="680.2" y="596.8" font-size="9.8" fill="#a020f0">(<tspan font-size="8" letter-spacing="0.4" word-spacing="1.2" stroke="#a020f0" stroke-width="0.3">2761 .. 2778</tspan>)</text><text x="605.5" y="615" font-size="10.4" font-weight="bold" fill="#111">Bbs<tspan font-family="DejaVu Sans Mono" dx="-1.2">I</tspan></text><text x="642.3" y="615" font-size="9.8" fill="#222">(<tspan font-size="8" letter-spacing="0.4" word-spacing="1.2" stroke="#222" stroke-width="0.3">2956</tspan>)</text><text x="582.5" y="632.5" font-size="10" fill="#a020f0">F1ori-R</text><text x="631.4" y="632.5" font-size="9.8" fill="#a020f0">(<tspan font-size="8" letter-spacing="0.4" word-spacing="1.2" stroke="#a020f0" stroke-width="0.3">3124 .. 3143</tspan>)</text><text x="553.5" y="650.9" font-size="10" fill="#a020f0">F1ori-F</text><text x="601.7" y="650.9" font-size="9.8" fill="#a020f0">(<tspan font-size="8" letter-spacing="0.4" word-spacing="1.2" stroke="#a020f0" stroke-width="0.3">3334 .. 3355</tspan>)</text><text x="517.4" y="668.7" font-size="10" fill="#a020f0">pBABE 3'</text><text x="576.5" y="668.7" font-size="9.8" fill="#a020f0">(<tspan font-size="8" letter-spacing="0.4" word-spacing="1.2" stroke="#a020f0" stroke-width="0.3">3474 .. 3494</tspan>)</text><text x="455.1" y="686.6" font-size="10.4" font-weight="bold" fill="#111">Csi<tspan font-family="DejaVu Sans Mono" dx="-0.3">I</tspan></text><text x="485.6" y="686.6" font-size="10.4" font-weight="bold" fill="#111">- SexA<tspan font-family="DejaVu Sans Mono" dx="-1.2">I</tspan> *</text><text x="545.7" y="686.6" font-size="9.8" fill="#222">(<tspan font-size="8" letter-spacing="0.4" word-spacing="1.2" stroke="#222" stroke-width="0.3">3560</tspan>)</text><rect x="346.7" y="45" width="85.5" height="10.8" rx="3" ry="3" fill="#ffffff" stroke="#8c8c8c" stroke-width="1"/><text x="349.5" y="54" font-size="10" fill="#161616">AmpR promoter</text><rect x="111.4" y="266.8" width="87.8" height="11.2" rx="3" ry="3" fill="#8fc1cf" stroke="#4c8a9c" stroke-width="1"/><text x="114.2" y="276.2" font-size="10" fill="#161616">CAP binding site</text><rect x="125.8" y="283" width="68.5" height="11.2" rx="3" ry="3" fill="#ffffff" stroke="#8c8c8c" stroke-width="1"/><text x="128.6" y="292.4" font-size="10" fill="#161616">lac promoter</text><rect x="121.4" y="319.2" width="64.8" height="11.1" rx="3" ry="3" fill="#8fc1cf" stroke="#4c8a9c" stroke-width="1"/><text x="124.2" y="328.5" font-size="10" fill="#161616">lac operator</text><rect x="136.6" y="354.6" width="46.9" height="11.7" rx="3" ry="3" fill="#dca8f5" stroke="#a23ee0" stroke-width="1"/><text x="139.4" y="364.5" font-size="10" fill="#161616">M13 rev</text><rect x="640.1" y="154.1" width="77.6" height="10.6" rx="3" ry="3" fill="#ffffff" stroke="#8c8c8c" stroke-width="1"/><text x="642.9" y="162.9" font-size="10" fill="#161616">CMV promoter</text><rect x="694" y="238.1" width="67.7" height="10.8" rx="3" ry="3" fill="#ffffff" stroke="#8c8c8c" stroke-width="1"/><text x="696.8" y="247.1" font-size="10" fill="#161616">T7 promoter</text><rect x="713.7" y="297.9" width="101.6" height="11" rx="3" ry="3" fill="#dcb7c9" stroke="#9a3468" stroke-width="1"/><text x="716.5" y="307.1" font-size="10" fill="#161616">COX8 presequence</text><rect x="716.6" y="314" width="101.4" height="11" rx="3" ry="3" fill="#dcb7c9" stroke="#9a3468" stroke-width="1"/><text x="719.4" y="323.2" font-size="10" fill="#161616">COX8 presequence</text><rect x="719.6" y="330" width="101.6" height="11.1" rx="3" ry="3" fill="#dcb7c9" stroke="#9a3468" stroke-width="1"/><text x="722.4" y="339.3" font-size="10" fill="#161616">COX8 presequence</text><rect x="720.7" y="346.1" width="101.4" height="11.1" rx="3" ry="3" fill="#dcb7c9" stroke="#9a3468" stroke-width="1"/><text x="723.5" y="355.4" font-size="10" fill="#161616">COX8 presequence</text><rect x="720.7" y="382" width="33.6" height="11.1" rx="3" ry="3" fill="#dcb7c9" stroke="#c894ae" stroke-width="1"/><text x="723.5" y="391.3" font-size="10" fill="#161616">6xHis</text><rect x="718.6" y="398.1" width="68.7" height="11.2" rx="3" ry="3" fill="#dcb7c9" stroke="#c894ae" stroke-width="1"/><text x="721.4" y="407.5" font-size="10" fill="#161616">Xpress™ tag</text><rect x="715.9" y="414.2" width="140" height="10.9" rx="3" ry="3" fill="#dcb7c9" stroke="#c894ae" stroke-width="1"/><text x="718.7" y="423.3" font-size="10" fill="#161616">calmodulin-binding peptide</text><text x="452" y="364.9" font-size="11" font-weight="bold" text-anchor="middle" fill="#111">CMV-mt4xi-GCaMP6f</text><text x="452.5" y="376.7" font-size="9.8" text-anchor="middle" fill="#222">7150 bp</text>
</svg>
</body></html>
